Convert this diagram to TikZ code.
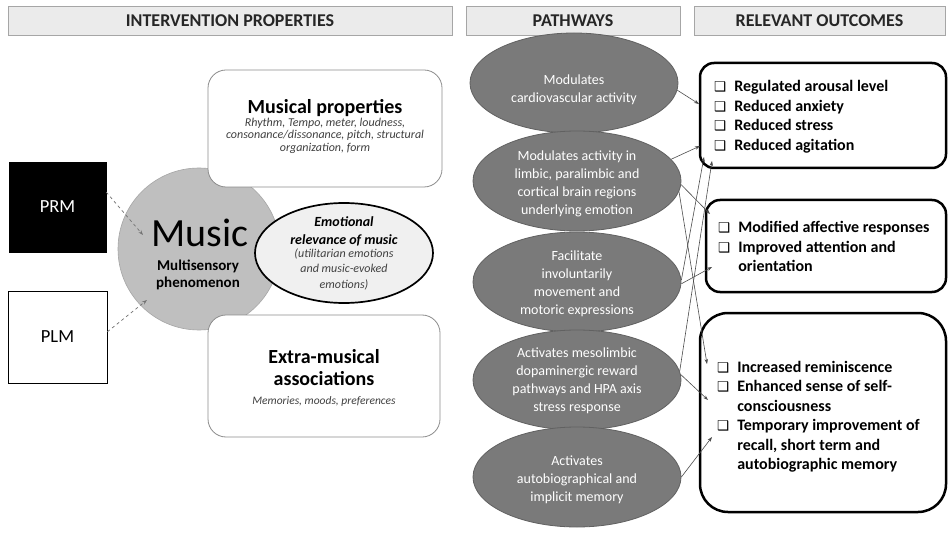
\documentclass[tikz,border=0pt]{standalone}
\usepackage{fontspec}
\setmainfont{Carlito}
\newfontfamily\symfont{DejaVu Sans}
\usetikzlibrary{shapes.geometric,arrows.meta}
\newcommand{\cbx}{{\symfont\fontsize{13.5}{13.5}\selectfont ❑}}
\begin{document}
\begin{tikzpicture}[x=1pt,y=-1pt,
  hdr/.style={draw=black!35, fill=black!8, line width=0.8pt, minimum height=29pt, inner sep=0pt, font=\fontsize{18}{18}\selectfont\bfseries, text=black!85},
  propbox/.style={draw=black!45, fill=white, line width=0.8pt, rounded corners=18pt, inner sep=0pt},
  pathell/.style={ellipse, draw=black!62, fill=black!52, line width=0.8pt, minimum width=208pt, minimum height=100pt, inner sep=0pt},
  pathtxt/.style={text=white, align=center, font=\fontsize{14}{18}\selectfont, inner sep=0pt},
  outbox/.style={draw=black, line width=2.5pt, rounded corners=14pt, fill=white, inner sep=0pt},
  outtxt/.style={anchor=base west, inner sep=0pt},
  conn/.style={draw=black!70, line width=0.6pt, -{Stealth[length=5pt,width=3.5pt]}},
  feed/.style={draw=black!55, line width=0.7pt, dashed, -{Stealth[length=5pt,width=3.5pt]}}
]
\useasboundingbox (0,0) rectangle (949,534);
\fill[white] (0,0) rectangle (949,534);

% headers
\node[hdr, minimum width=444pt] (h1) at (230,20.5) {INTERVENTION PROPERTIES};
\node[hdr, minimum width=214pt] (h2) at (573,20.5) {PATHWAYS};
\node[hdr, minimum width=251pt] (h3) at (819.5,20.5) {RELEVANT OUTCOMES};

% left inputs
\node[draw=black, fill=black, minimum width=97pt, minimum height=90pt, inner sep=0pt, text=white, font=\fontsize{18.5}{18.5}\selectfont] (prm) at (57.5,207) {PRM};
\node[draw=black, fill=white, line width=0.8pt, minimum width=99pt, minimum height=92pt, inner sep=0pt, font=\fontsize{18.5}{18.5}\selectfont] (plm) at (57.5,337) {PLM};

% music circle
\node[circle, fill=black!25, draw=black!35, line width=0.6pt, minimum size=162pt, inner sep=0pt] (music) at (199,249) {};
\node[font=\fontsize{40}{40}\selectfont, anchor=base, inner sep=0pt] (mlabel) at (200,247) {Music};
\node[font=\fontsize{15}{17}\selectfont\bfseries, align=center, inner sep=0pt] (msub) at (198,275) {Multisensory\\phenomenon};

% musical properties
\node[propbox, minimum width=234pt, minimum height=117pt] (mp) at (325,128.5) {};
\node[font=\fontsize{20}{20}\selectfont\bfseries, inner sep=0pt] (mpt) at (325,108) {Musical properties};
\node[font=\fontsize{12}{12.5}\selectfont\itshape, text=black!75, align=center, inner sep=0pt] (mps) at (325,135.5) {Rhythm, Tempo, meter, loudness,\\consonance/dissonance, pitch, structural\\organization, form};

% extra-musical
\node[propbox, minimum width=232pt, minimum height=122pt] (em) at (324,376) {};
\node[font=\fontsize{20}{22}\selectfont\bfseries, align=center, inner sep=0pt] (emt) at (324,368) {Extra-musical\\associations};
\node[font=\fontsize{11.5}{12}\selectfont\itshape, text=black!75, inner sep=0pt] (ems) at (324,401) {Memories, moods, preferences};

% emotional relevance
\node[ellipse, draw=black, fill=black!6, line width=1.7pt, minimum width=178pt, minimum height=100pt, inner sep=0pt] (emo) at (344,253) {};
\node[font=\fontsize{14}{18}\selectfont\bfseries\itshape, align=center, inner sep=0pt] (emot) at (344,231) {Emotional\\relevance of music};
\node[font=\fontsize{12}{15.5}\selectfont\itshape, text=black!75, align=center, inner sep=0pt] (emos) at (344,269) {(utilitarian emotions\\and music-evoked\\emotions)};

% pathways
\node[pathell] (e1) at (574,83) {};
\node[pathell] (e2) at (577,181) {};
\node[pathell] (e3) at (577,282) {};
\node[pathell] (e4) at (577,380) {};
\node[pathell] (e5) at (577,477) {};
\node[pathtxt] (p1) at (574,90) {Modulates\\cardiovascular activity};
\node[pathtxt] (p2) at (577,184) {Modulates activity in\\limbic, paralimbic and\\cortical brain regions\\underlying emotion};
\node[pathtxt] (p3) at (577,284) {Facilitate\\involuntarily\\movement and\\motoric expressions};
\node[pathtxt] (p4) at (577,381) {Activates mesolimbic\\dopaminergic reward\\pathways and HPA axis\\stress response};
\node[pathtxt] (p5) at (577,480) {Activates\\autobiographical and\\implicit memory};

% outcomes
\node[outbox, minimum width=246pt, minimum height=105pt] (o1) at (823,115.5) {};
\node[outbox, minimum width=240pt, minimum height=92pt] (o2) at (826,246) {};
\node[outbox, rounded corners=28pt, minimum width=246pt, minimum height=199pt] (o3) at (823,412.5) {};

\node[outtxt] (l1) at (714,92) {\fontsize{16}{19.5}\selectfont\bfseries
\begin{tabular}[t]{@{}l@{\hspace{8pt}}l@{}}
\cbx & Regulated arousal level\\
\cbx & Reduced anxiety\\
\cbx & Reduced stress\\
\cbx & Reduced agitation
\end{tabular}};
\node[outtxt] (l2) at (718,233) {\fontsize{16}{19.5}\selectfont\bfseries
\begin{tabular}[t]{@{}l@{\hspace{8pt}}l@{}}
\cbx & Modified affective responses\\
\cbx & Improved attention and\\
 & orientation
\end{tabular}};
\node[outtxt] (l3) at (717,372) {\fontsize{16}{19.5}\selectfont\bfseries
\begin{tabular}[t]{@{}l@{\hspace{8pt}}l@{}}
\cbx & Increased reminiscence\\
\cbx & Enhanced sense of self-\\
 & consciousness\\
\cbx & Temporary improvement of\\
 & recall, short term and\\
 & autobiographic memory
\end{tabular}};

% connector end points
\coordinate (c1) at (699,104);
\coordinate (c2) at (700,146);
\coordinate (c3) at (710,214);
\coordinate (c4) at (707,364);
\coordinate (c5) at (704,157);
\coordinate (c6) at (712,267);
\coordinate (c7) at (712,161);
\coordinate (c8) at (708,400);
\coordinate (c9) at (712,437);
\coordinate (m1) at (143,235);
\coordinate (m2) at (147,300);

% connectors
\draw[feed] (prm.17) -- (m1);
\draw[feed] (plm.6) -- (m2);
\draw[conn] (e1.-4) -- (c1);
\draw[conn] (e2.13) -- (c2);
\draw[conn] (e2.-2) -- (c3);
\draw[conn] (e2.-6) -- (c4);
\draw[conn] (e3.1) -- (c5);
\draw[conn] (e3.-1) -- (c6);
\draw[conn] (e4.5) -- (c7);
\draw[conn] (e4.3) -- (c8);
\draw[conn] (e5.0) -- (c9);
\end{tikzpicture}
\end{document}
